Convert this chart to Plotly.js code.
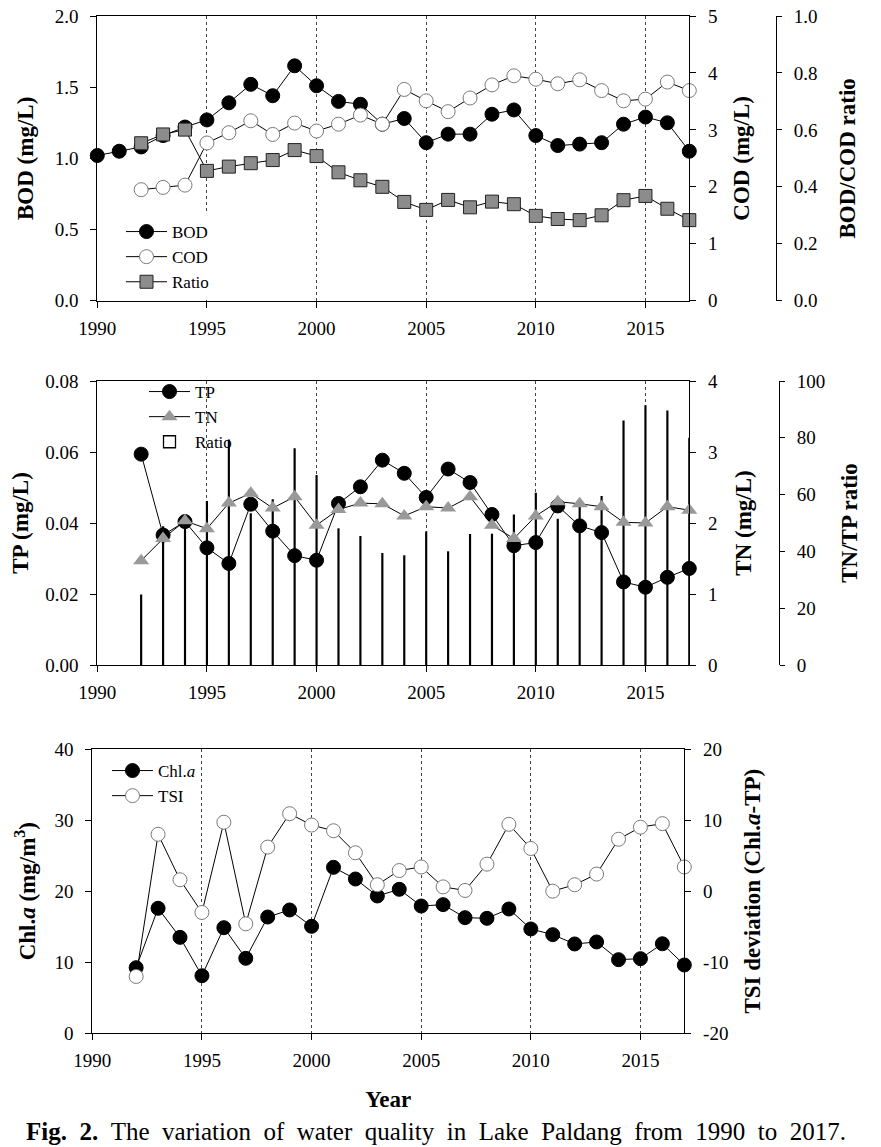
<!DOCTYPE html>
<html>
<head>
<meta charset="utf-8">
<script src="https://cdn.plot.ly/plotly-3.0.1.min.js"></script>
<style>html,body{margin:0;padding:0;background:#fff;}#chart{width:881px;height:1147px;}</style>
</head>
<body>
<div id="chart"></div>
<script>
// ---------- data ----------
const yearsAll = [1990,1991,1992,1993,1994,1995,1996,1997,1998,1999,2000,2001,2002,2003,2004,2005,2006,2007,2008,2009,2010,2011,2012,2013,2014,2015,2016,2017];
const yearsSub = [1992,1993,1994,1995,1996,1997,1998,1999,2000,2001,2002,2003,2004,2005,2006,2007,2008,2009,2010,2011,2012,2013,2014,2015,2016,2017];

// Panel 1
const bod = [1.02,1.05,1.08,1.16,1.22,1.27,1.39,1.52,1.44,1.65,1.51,1.40,1.38,1.24,1.28,1.11,1.17,1.17,1.31,1.34,1.16,1.09,1.10,1.11,1.24,1.29,1.25,1.05];
const cod = [1.95,1.99,2.03,2.77,2.95,3.16,2.92,3.12,2.98,3.10,3.26,3.10,3.71,3.51,3.32,3.56,3.79,3.95,3.89,3.81,3.88,3.69,3.51,3.54,3.84,3.69];
const bodCodRatio = [0.553,0.584,0.601,0.456,0.471,0.483,0.494,0.529,0.508,0.451,0.423,0.400,0.347,0.319,0.354,0.328,0.348,0.339,0.298,0.287,0.283,0.300,0.353,0.368,0.323,0.283];

// Panel 2
const tp = [0.0594,0.0366,0.0404,0.0330,0.0286,0.0453,0.0377,0.0308,0.0295,0.0455,0.0502,0.0577,0.0540,0.0472,0.0552,0.0514,0.0424,0.0336,0.0345,0.0448,0.0392,0.0373,0.0234,0.0219,0.0247,0.0272];
const tn = [1.47,1.78,2.03,1.92,2.28,2.42,2.21,2.37,1.97,2.19,2.28,2.27,2.10,2.23,2.21,2.37,1.97,1.78,2.10,2.30,2.27,2.23,2.01,2.00,2.23,2.18];
const tnTpRatio = [24.6,48.6,50.2,57.5,79.2,53.2,58.1,76.1,66.7,47.9,45.2,39.2,38.4,46.8,39.8,45.9,46.0,52.8,60.4,51.3,58.1,59.3,85.9,91.2,89.4,79.8];

// Panel 3
const chla = [9.23,17.59,13.5,8.1,14.86,10.55,16.36,17.35,15.05,23.35,21.71,19.32,20.26,17.91,18.1,16.27,16.18,17.49,14.68,13.88,12.57,12.85,10.36,10.5,12.6,9.61];
const tsiDev = [-12.0,8.0,1.6,-3.0,9.7,-4.6,6.2,10.9,9.3,8.5,5.4,0.9,2.9,3.4,0.6,0.1,3.8,9.4,6.0,0.0,0.9,2.4,7.3,9.0,9.5,3.4];

const xTicks = [1990,1995,2000,2005,2010,2015];
const tsiTickVals = [-20,-10,0,10,20];
const tsiTickText = ['-20','-10','0','10','20'];

// ---------- layout helpers ----------
const W = 881, H = 1147;
const px = v => v / W;
const py = v => 1 - v / H;
const FONT = 'Liberation Serif, Times New Roman, serif';
const tickFont = {family: FONT, size: 19, color: '#000'};
const titleFont = {family: FONT, size: 23, color: '#000'};

function xAxis(dom, anchor, extra) {
  return Object.assign({
    domain: dom, anchor: anchor, range: [1990, 2017], tickvals: xTicks,
    showline: true, linecolor: '#000', linewidth: 1, mirror: true,
    ticks: 'outside', ticklen: 6, tickwidth: 1, tickcolor: '#000',
    tickfont: tickFont, ticklabelstandoff: 4,
    showgrid: true, gridcolor: '#444', gridwidth: 1, griddash: 'dot',
    zeroline: false, fixedrange: true
  }, extra || {});
}
function yAxis(extra) {
  return Object.assign({
    showline: true, linecolor: '#000', linewidth: 1,
    ticks: 'outside', ticklen: 6, tickwidth: 1, tickcolor: '#000',
    tickfont: tickFont, ticklabelstandoff: 8,
    showgrid: false, zeroline: false, fixedrange: true
  }, extra);
}

const d1 = [py(300.7), py(16)];
const d2 = [py(665), py(381)];
const d3 = [py(1033.3), py(749)];
const xd12 = [px(97.3), px(689.3)];
const xd3 = [px(92.3), px(684.3)];

const blackCircle = {symbol: 'circle', size: 14, color: '#000', line: {color: '#000', width: 1}};
const openCircle = {symbol: 'circle', size: 14, color: '#fff', line: {color: '#7a7a7a', width: 1}};
const line1 = {color: '#000', width: 1};

const traces = [
  // Panel 1
  {x: yearsAll, y: bod, name: 'BOD', type: 'scatter', mode: 'lines+markers', xaxis: 'x', yaxis: 'y',
   line: line1, marker: blackCircle, cliponaxis: false, legend: 'legend'},
  {x: yearsSub, y: cod, name: 'COD', type: 'scatter', mode: 'lines+markers', xaxis: 'x', yaxis: 'y2',
   line: line1, marker: openCircle, cliponaxis: false, legend: 'legend'},
  {x: yearsSub, y: bodCodRatio, name: 'Ratio', type: 'scatter', mode: 'lines+markers', xaxis: 'x', yaxis: 'y3',
   line: line1, marker: {symbol: 'square', size: 13, color: '#8c8c8c', line: {color: '#222', width: 1}}, cliponaxis: false, legend: 'legend'},
  // Panel 2
  {x: yearsSub, y: tnTpRatio, name: 'Ratio', type: 'bar', xaxis: 'x2', yaxis: 'y4', width: 0.04,
   marker: {color: '#fff', line: {color: '#000', width: 1.3}}, legend: 'legend2', legendrank: 3},
  {x: yearsSub, y: tp, name: 'TP', type: 'scatter', mode: 'lines+markers', xaxis: 'x2', yaxis: 'y5',
   line: line1, marker: blackCircle, cliponaxis: false, legend: 'legend2', legendrank: 1},
  {x: yearsSub, y: tn, name: 'TN', type: 'scatter', mode: 'lines+markers', xaxis: 'x2', yaxis: 'y6',
   line: line1, marker: {symbol: 'triangle-up', size: 14, color: '#999', line: {color: '#999', width: 0}}, cliponaxis: false, legend: 'legend2', legendrank: 2},
  // Panel 3
  {x: yearsSub, y: chla, name: 'Chl.<i>a</i>', type: 'scatter', mode: 'lines+markers', xaxis: 'x3', yaxis: 'y7',
   line: line1, marker: blackCircle, cliponaxis: false, legend: 'legend3'},
  {x: yearsSub, y: tsiDev, name: 'TSI', type: 'scatter', mode: 'lines+markers', xaxis: 'x3', yaxis: 'y8',
   line: line1, marker: openCircle, cliponaxis: false, legend: 'legend3'}
];

const legFont = {family: FONT, size: 17, color: '#000'};
const caption = '<b>Fig. 2.</b> The variation of water quality in Lake Paldang from 1990 to 2017.'.replace(/ (?![^<]*>)/g, ' \u00a0');
const layout = {
  width: W, height: H,
  margin: {l: 0, r: 0, t: 0, b: 0},
  paper_bgcolor: '#fff', plot_bgcolor: 'rgba(0,0,0,0)',
  font: {family: FONT, color: '#000'},
  showlegend: true,
  barmode: 'overlay',
  xaxis: xAxis(xd12, 'y'),
  yaxis: yAxis({domain: d1, anchor: 'x', side: 'left', range: [0, 2], tickvals: [0,0.5,1,1.5,2], tickformat: '.1f',
    title: {text: '<b>BOD (mg/L)</b>', font: titleFont, standoff: 14}}),
  yaxis2: yAxis({overlaying: 'y', anchor: 'x', side: 'right', range: [0, 5], tickvals: [0,1,2,3,4,5],
    title: {text: '<b>COD (mg/L)</b>', font: titleFont, standoff: 15}}),
  yaxis3: yAxis({overlaying: 'y', anchor: 'free', position: px(776), side: 'right', range: [0, 1], tickvals: [0,0.2,0.4,0.6,0.8,1.0], tickformat: '.1f', ticklen: 5,
    title: {text: '<b>BOD/COD ratio</b>', font: titleFont, standoff: 21}}),

  xaxis2: xAxis(xd12, 'y4'),
  yaxis4: yAxis({domain: d2, anchor: 'free', position: px(779), side: 'right', range: [0, 100], tickvals: [0,20,40,60,80,100], ticklen: 5,
    title: {text: '<b>TN/TP ratio</b>', font: titleFont, standoff: 16}}),
  yaxis5: yAxis({overlaying: 'y4', anchor: 'x2', side: 'left', range: [0, 0.08], tickvals: [0,0.02,0.04,0.06,0.08], tickformat: '.2f',
    title: {text: '<b>TP (mg/L)</b>', font: titleFont, standoff: 10}}),
  yaxis6: yAxis({overlaying: 'y4', anchor: 'x2', side: 'right', range: [0, 4], tickvals: [0,1,2,3,4],
    title: {text: '<b>TN (mg/L)</b>', font: titleFont, standoff: 17}}),

  xaxis3: xAxis(xd3, 'y7', {title: {text: '<b>Year</b>', font: titleFont, standoff: 20}}),
  yaxis7: yAxis({domain: d3, anchor: 'x3', side: 'left', range: [0, 40], tickvals: [0,10,20,30,40],
    title: {text: '<b>Chl.<i>a</i> (mg/m<sup>3</sup>)</b>', font: titleFont, standoff: 12}}),
  yaxis8: yAxis({overlaying: 'y7', anchor: 'x3', side: 'right', range: [-20, 20], tickvals: tsiTickVals, ticktext: tsiTickText,
    title: {text: '<b>TSI deviation (Chl.<i>a</i>-TP)</b>', font: titleFont, standoff: 16}}),

  legend: {x: px(121), y: py(214), xanchor: 'left', yanchor: 'top', bgcolor: '#fff', borderwidth: 0,
    font: legFont, tracegroupgap: 0, itemwidth: 41},
  legend2: {x: px(144), y: py(374), xanchor: 'left', yanchor: 'top', bgcolor: 'rgba(0,0,0,0)', borderwidth: 0,
    font: legFont, tracegroupgap: 0, itemwidth: 41, traceorder: 'normal'},
  legend3: {x: px(107), y: py(753), xanchor: 'left', yanchor: 'top', bgcolor: 'rgba(0,0,0,0)', borderwidth: 0,
    font: legFont, tracegroupgap: 0, itemwidth: 41},

  annotations: [
    {text: caption,
     xref: 'paper', yref: 'paper', x: px(436), y: py(1131), xanchor: 'center', yanchor: 'middle',
     showarrow: false, font: {family: FONT, size: 25, color: '#000'}}
  ]
};

Plotly.newPlot('chart', traces, layout, {displayModeBar: false, staticPlot: true});
</script>
</body>
</html>
